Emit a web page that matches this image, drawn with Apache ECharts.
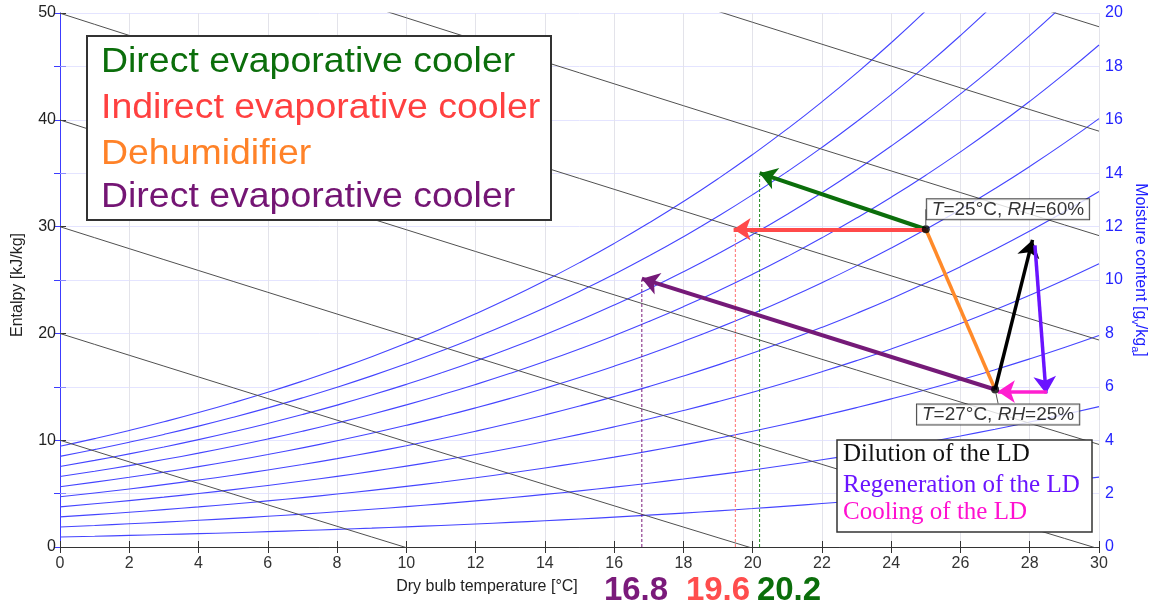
<!DOCTYPE html>
<html><head><meta charset="utf-8">
<script src="https://cdn.jsdelivr.net/npm/echarts@6/dist/echarts.min.js"></script>
<style>html,body{margin:0;padding:0;background:#fff}#c{width:1161px;height:607px}</style>
</head><body><div id="c"></div>
<script>
// ---------- data ----------
const temps = [0,1,2,3,4,5,6,7,8,9,10,11,12,13,14,15,16,17,18,19,20,21,22,23,24,25,26,27,28,29,30];
// saturation vapour pressure of water [kPa] at each temperature
const satPressure = [0.6112,0.6571,0.7060,0.7581,0.8135,0.8726,0.9354,1.0021,1.0730,1.1482,1.2282,1.3130,1.4028,1.4981,1.5990,1.7058,1.8188,1.9384,2.0647,2.1983,2.3393,2.4882,2.6453,2.8111,2.9858,3.1699,3.3639,3.5681,3.7831,4.0092,4.2470];
const atmPressure = 101.325;
const rhLevels = [0.1,0.2,0.3,0.4,0.5,0.6,0.7,0.8,0.9,1.0];
const enthalpyLevels = [10,20,30,40,50,60,70,80];

// process states [T °C, moisture g/kg]
const stateTemps = [25, 27];
const stateMoisture = [11.9, 5.9];
const stateRH = [60, 25];

const greenArrow   = [[25, 11.9], [20.2, 14.0]];
const redArrow     = [[25, 11.9], [19.45, 11.9]];
const purpleArrow  = [[27, 5.9], [16.8, 10.05]];
const orangeLine   = [[25, 11.9], [27, 5.9]];
const blackArrow   = [[27, 5.9], [28.08, 11.5]];
const violetArrow  = [[28.15, 11.3], [28.47, 5.75]];
const magentaArrow = [[28.5, 5.82], [27.08, 5.82]];

const dashTemps = [16.8, 19.5, 20.2];
const dashTops = [10.0, 11.8, 13.9];
const dashColors = ['#7a1a7a', '#ff7070', '#1f8a1f'];

const resultLabels = ['16.8', '19.6', '20.2'];
const resultColors = ['#7a1a7a', '#ff4d4d', '#0b6e0b'];

const legend1Texts = ['Direct evaporative cooler', 'Indirect evaporative cooler', 'Dehumidifier', 'Direct evaporative cooler'];
const legend1Colors = ['#0b6e0b', '#ff4040', '#ff8228', '#741574'];
const legend2Texts = ['Dilution of the LD', 'Regeneration of the LD', 'Cooling of the LD'];
const legend2Colors = ['#111111', '#6a14ff', '#ff10d0'];

// ---------- chart ----------
const FONT = '"Liberation Sans", Arial, Helvetica, sans-serif';
const SERIF = '"Liberation Serif", "Times New Roman", serif';
const chart = echarts.init(document.getElementById('c'));

const rhSeries = rhLevels.map(rh => ({
  type: 'line', yAxisIndex: 1, silent: true, showSymbol: false, smooth: true, clip: true, z: 2,
  data: temps.map((t, i) => [t, 622 * rh * satPressure[i] / (atmPressure - rh * satPressure[i])]),
  lineStyle: { color: '#4545ff', width: 1.1 }
}));
const hSeries = enthalpyLevels.map(h => ({
  type: 'line', yAxisIndex: 1, silent: true, showSymbol: false, clip: true, z: 2,
  data: temps.map(t => [t, (h - 1.006 * t) / (2.501 + 0.00186 * t)]),
  lineStyle: { color: '#505050', width: 1 }
}));
const dashSeries = dashTemps.map((t, i) => ({
  type: 'line', yAxisIndex: 1, silent: true, showSymbol: false, z: 3,
  data: [[t, 0], [t, dashTops[i]]],
  lineStyle: { color: dashColors[i], width: 1, type: [3, 2] }
}));
function arrow(coords, color, width, head) {
  return {
    type: 'lines', coordinateSystem: 'cartesian2d', xAxisIndex: 0, yAxisIndex: 1, z: 5, silent: true,
    symbol: head ? ['none', 'arrow'] : ['none', 'none'], symbolSize: 17,
    lineStyle: { color: color, width: width, opacity: 1, curveness: 0 },
    data: [{ coords: coords }]
  };
}

const option = {
  animation: false,
  grid: { left: 60, right: 62, top: 13, bottom: 60 },
  xAxis: [
    { type: 'value', min: 0, max: 30, interval: 2, position: 'bottom',
      axisLine: { lineStyle: { color: '#333', width: 1 } },
      axisTick: { inside: true, length: 6, lineStyle: { color: '#333' } },
      axisLabel: { color: '#333', fontSize: 16, fontFamily: FONT, margin: 9 },
      splitLine: { show: true, lineStyle: { color: '#e3e3ea', width: 1 } } },
    { type: 'value', min: 0, max: 30, interval: 2, position: 'top',
      axisLine: { show: true, lineStyle: { color: '#333', width: 1 } },
      axisTick: { show: true, inside: true, length: 6, lineStyle: { color: '#333' } },
      axisLabel: { show: false }, splitLine: { show: false } }
  ],
  yAxis: [
    { type: 'value', min: 0, max: 50, interval: 10, position: 'left',
      axisLine: { show: true, lineStyle: { color: '#8a8aff', width: 1 } },
      axisTick: { show: true, inside: true, length: 6, lineStyle: { color: '#333' } },
      minorTick: { show: true, splitNumber: 2, length: 6, lineStyle: { color: '#8a8aff' } },
      axisLabel: { color: '#222', fontSize: 16, fontFamily: FONT, margin: 4 },
      splitLine: { show: false } },
    { type: 'value', min: 0, max: 20, interval: 2, position: 'right',
      axisLine: { show: true, lineStyle: { color: '#3c3cff', width: 1 } },
      axisTick: { show: true, inside: true, length: 6, lineStyle: { color: '#3c3cff' } },
      axisLabel: { color: '#2424ff', fontSize: 16, fontFamily: FONT, margin: 6 },
      splitLine: { show: true, lineStyle: { color: '#e4e4ff', width: 1 } } }
  ],
  series: [
    ...rhSeries, ...hSeries, ...dashSeries,
    arrow(orangeLine, '#ff8a2a', 3.5, false),
    arrow(greenArrow, '#0b6e0b', 4, true),
    arrow(redArrow, '#ff4a4a', 4, true),
    arrow(purpleArrow, '#751a78', 4, true),
    arrow(blackArrow, '#000000', 3.5, true),
    arrow(violetArrow, '#6a14ff', 3.5, true),
    arrow(magentaArrow, '#ff1fd0', 3.5, true),
    {
      type: 'scatter', yAxisIndex: 1, symbolSize: 8, z: 6, silent: true,
      itemStyle: { color: '#000' },
      data: stateTemps.map((t, i) => ({
        value: [t, stateMoisture[i]],
        label: { position: i === 0 ? 'right' : 'bottom' }
      })),
      label: {
        show: true,
        formatter: p => '{i|T}=' + stateTemps[p.dataIndex] + '°C, {i|RH}=' + stateRH[p.dataIndex] + '%',
        color: '#000', fontSize: 19, fontFamily: FONT,
        backgroundColor: '#fff', borderColor: '#222', borderWidth: 1, padding: [1, 5, 0, 5],
        rich: { i: { fontStyle: 'italic', fontSize: 19, fontFamily: FONT, color: '#000' } }
      },
      labelLine: { show: true, lineStyle: { color: '#555', width: 1 } },
      labelLayout: p => p.dataIndex === 0 ? { dx: -8, dy: -20 } : { dx: 3, dy: 6 }
    }
  ],
  graphic: [
    { type: 'text', x: 18, y: 285, rotation: Math.PI / 2,
      style: { text: 'Entalpy [kJ/kg]', fill: '#222', fontSize: 16, fontFamily: FONT, align: 'center', verticalAlign: 'middle' } },
    { type: 'text', x: 1140, y: 270, rotation: -Math.PI / 2,
      style: { text: 'Moisture content [g{s|v}/kg{s|a}]', fill: '#2020ff', fontSize: 16, fontFamily: FONT, align: 'center', verticalAlign: 'middle',
        rich: { s: { fontSize: 11, fontFamily: FONT, fill: '#2020ff', padding: [9, 0, 0, 0] } } } },
    { type: 'text', x: 487, y: 587,
      style: { text: 'Dry bulb temperature [°C]', fill: '#222', fontSize: 16, fontFamily: FONT, align: 'center', verticalAlign: 'middle' } },
    ...resultLabels.map((t, i) => ({ type: 'text', x: [636, 718, 789][i], y: 591,
      style: { text: t, fill: resultColors[i], fontSize: 33, fontWeight: 'bold', fontFamily: FONT, align: 'center', verticalAlign: 'middle' } })),
    { type: 'rect', z: 50, shape: { x: 87, y: 36, width: 464, height: 184 },
      style: { fill: '#fff', stroke: '#333', lineWidth: 2 } },
    ...legend1Texts.map((t, i) => ({ type: 'text', z: 51, x: 101, y: [62, 108, 154, 197][i], scaleX: 1.07,
      style: { text: t, fill: legend1Colors[i], fontSize: 35, fontFamily: FONT, align: 'left', verticalAlign: 'middle' } })),
    { type: 'rect', z: 50, shape: { x: 837, y: 440, width: 255, height: 92 },
      style: { fill: '#fff', stroke: '#333', lineWidth: 1.5 } },
    ...legend2Texts.map((t, i) => ({ type: 'text', z: 51, x: 843, y: [454, 485, 512][i],
      style: { text: t, fill: legend2Colors[i], fontSize: 25, fontFamily: SERIF, align: 'left', verticalAlign: 'middle' } }))
  ]
};
chart.setOption(option);
</script>
</body></html>
